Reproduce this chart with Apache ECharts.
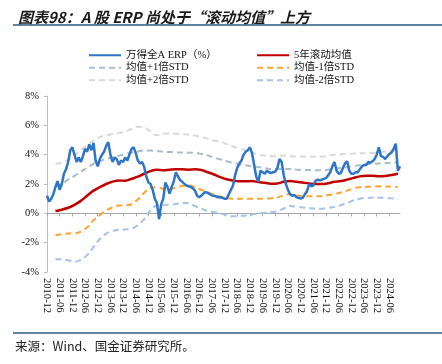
<!DOCTYPE html>
<html>
<head>
<meta charset="utf-8">
<script src="https://cdn.jsdelivr.net/npm/echarts@6/dist/echarts.min.js"></script>
<style>
  html, body { margin: 0; padding: 0; background: #fff; }
  #chart { width: 442px; height: 364px; }
</style>
</head>
<body>
<div id="chart"></div>
<script>
// monthly categories 2010-12 .. 2024-11
const months = [];
for (let y = 2010, m = 12; y < 2024 || (y === 2024 && m <= 11); ) {
  months.push(y + "-" + (m < 10 ? "0" + m : m));
  m++;
  if (m > 12) { m = 1; y++; }
}

// 万得全A ERP, monthly (%)
const erp = [
  1.2, 0.8, 1.0, 1.3, 1.8, 2.2, 1.6, 2.0, 2.7, 3.0, 3.5, 4.3,
  4.5, 4.0, 3.5, 3.8, 3.5, 3.9, 4.4, 4.2, 4.7, 4.3, 4.8, 3.6,
  3.2, 3.7, 4.0, 4.2, 4.6, 4.85, 4.0, 3.5, 3.8, 3.7, 3.3, 3.6,
  3.5, 3.8, 3.6, 4.0, 4.4, 4.5, 4.1, 3.6, 3.4, 3.5, 3.15, 2.5,
  2.1, 2.0, 1.6, 1.0, 0.7, -0.4, 0.6, 1.0, 2.1, 1.8, 1.35, 1.8,
  2.2, 2.8, 2.5, 2.25, 2.15, 2.0, 1.9, 1.85, 1.8, 1.7, 1.55, 1.2,
  1.1, 1.2, 1.35, 1.45, 1.4, 1.3, 1.22, 1.2, 1.15, 1.1, 1.1, 1.05,
  1.0, 1.0, 1.3, 1.6, 1.9, 2.6, 3.1, 3.4, 3.6, 4.0, 4.2, 4.3,
  4.5, 4.1, 3.3, 2.5, 2.15, 2.9, 2.8, 2.7, 2.9, 2.8, 2.75, 2.8,
  2.85, 3.1, 3.7, 3.5, 2.6, 2.0, 1.6, 1.3, 1.2, 1.25, 1.1, 1.05,
  1.0, 1.05, 1.3, 1.5, 2.0, 1.85, 1.9, 2.2, 2.3, 2.25, 2.3, 2.35,
  2.4, 2.6, 2.8, 3.2, 3.5, 2.9, 2.7, 2.75, 3.1, 3.4, 3.55, 2.9,
  2.7, 2.7, 2.8, 2.8, 3.0, 3.2, 3.3, 3.3, 3.5, 3.45, 3.55, 3.7,
  4.0, 4.5, 3.9, 3.85, 3.7, 3.9, 4.05, 4.15, 4.4, 4.75, 2.9, 3.2
];

// rolling stats, read every 3 months starting 2011-04 (index 4)
const bandStart = 4;
const rollMean = [
  0.16, 0.25, 0.38, 0.58, 0.85, 1.2, 1.55, 1.78, 2.0, 2.16, 2.24, 2.22,
  2.35, 2.5, 2.7, 2.88, 2.97, 2.93, 2.97, 3.0, 3.0, 2.98, 3.0, 2.95,
  2.8, 2.65, 2.47, 2.32, 2.24, 2.18, 2.18, 2.2, 2.13, 2.08, 2.02, 2.04,
  2.15, 2.2, 2.16, 2.1, 2.04, 2.0, 2.0, 2.05, 2.15, 2.2, 2.3, 2.42,
  2.52, 2.56, 2.56, 2.52, 2.55, 2.62, 2.7
];
const plus1 = [
  1.8, 2.0, 2.3, 2.55, 2.85, 3.1, 3.38, 3.55, 3.72, 3.82, 3.93, 4.05,
  4.15, 4.22, 4.28, 4.28, 4.25, 4.2, 4.18, 4.17, 4.14, 4.13, 4.12, 4.05,
  3.95, 3.8, 3.68, 3.55, 3.45, 3.35, 3.28, 3.22, 3.15, 3.08, 3.02, 3.0,
  3.03, 3.02, 2.98, 2.96, 2.96, 2.94, 2.93, 2.97, 3.04, 3.1, 3.15, 3.22,
  3.28, 3.33, 3.37, 3.4, 3.42, 3.45, 3.5
];
const plus2 = [
  3.38, 3.45, 3.65, 3.95, 4.3, 4.65, 4.97, 5.2, 5.32, 5.4, 5.47, 5.58,
  5.75, 5.9, 5.85, 5.6, 5.32, 5.45, 5.45, 5.42, 5.4, 5.37, 5.3, 5.2,
  5.1, 4.95, 4.9, 4.72, 4.56, 4.42, 4.3, 4.15, 4.0, 3.95, 3.9, 3.9,
  3.95, 3.9, 3.87, 3.87, 3.87, 3.86, 3.87, 3.92, 4.0, 4.03, 4.06, 4.08,
  4.1, 4.1, 4.12, 4.15, 4.22, 4.27, 4.33
];
const minus1 = [
  -1.5, -1.42, -1.38, -1.37, -1.25, -0.95, -0.48, -0.12, 0.2, 0.4, 0.53, 0.55,
  0.62, 0.95, 1.4, 1.75, 1.78, 1.68, 1.66, 1.75, 1.86, 1.9, 1.78, 1.6,
  1.43, 1.28, 1.15, 1.05, 1.0, 1.0, 1.0, 1.0, 1.0, 1.0, 1.03, 1.08,
  1.22, 1.32, 1.22, 1.18, 1.16, 1.16, 1.18, 1.25, 1.32, 1.42, 1.55, 1.7,
  1.78, 1.8, 1.82, 1.84, 1.83, 1.82, 1.8
];
const minus2 = [
  -3.13, -3.13, -3.2, -3.3, -3.18, -2.85, -2.3, -1.75, -1.38, -1.2, -1.12, -1.1,
  -1.05, -0.8, -0.4, 0.22, 0.54, 0.55, 0.6, 0.63, 0.7, 0.68, 0.5, 0.32,
  0.16, 0.08, 0.0, -0.12, -0.2, -0.18, -0.14, -0.08, 0.0, 0.04, 0.08, 0.15,
  0.33, 0.5, 0.45, 0.4, 0.35, 0.32, 0.32, 0.38, 0.43, 0.55, 0.7, 0.88,
  1.0, 1.05, 1.06, 1.07, 1.06, 1.02, 0.96
];

function bandData(vals) {
  return vals.map((v, i) => [months[bandStart + 3 * i], v]);
}

const serif = "'Liberation Serif', 'Noto Sans CJK SC', serif";
const cjk = "'Noto Sans CJK SC', sans-serif";

function dashedLine(name, vals, color) {
  return {
    name: name,
    type: "line",
    data: bandData(vals),
    symbol: "none",
    smooth: 0.4,
    itemStyle: { color: color },
    lineStyle: { color: color, width: 2, type: [6, 4] },
    z: 2
  };
}

const legendBase = {
  top: 45, orient: "vertical",
  itemWidth: 32, itemHeight: 12, itemGap: 2,
  itemStyle: { opacity: 0 },   // line only, no marker
  textStyle: { fontFamily: serif, fontSize: 10.5, color: "#111" }
};

const chart = echarts.init(document.getElementById("chart"));
chart.setOption({
  animation: false,
  title: {
    text: "图表98：A 股 ERP 尚处于“滚动均值”上方",
    left: 13,
    top: 5,
    textStyle: { fontFamily: cjk, fontSize: 15, fontWeight: "bold", fontStyle: "italic", color: "#1a1a1a" }
  },
  legend: [
    Object.assign({}, legendBase, {
      left: 83,
      data: ["万得全A ERP（%）", "均值+1倍STD", "均值+2倍STD"]
    }),
    Object.assign({}, legendBase, {
      left: 251,
      data: ["5年滚动均值", "均值-1倍STD", "均值-2倍STD"]
    })
  ],
  grid: { left: 47, right: 42, top: 96, bottom: 92 },
  xAxis: [
    {
      type: "category",
      data: months,
      boundaryGap: false,
      position: "bottom",
      axisLine: { show: false, onZero: false },
      axisTick: { show: false },
      axisLabel: { interval: 5, rotate: -90, fontFamily: serif, fontSize: 10.5, color: "#111", margin: 6 }
    },
    {
      type: "category",
      data: months,
      boundaryGap: false,
      position: "top",
      axisLine: { show: true, onZero: true, lineStyle: { color: "#a6a6a6", width: 1 } },
      axisTick: { show: true, inside: true, interval: 5, length: 3, lineStyle: { color: "#a6a6a6" } },
      axisLabel: { show: false }
    }
  ],
  yAxis: {
    type: "value",
    min: -4,
    max: 8,
    interval: 2,
    axisLine: { show: true, lineStyle: { color: "#bfbfbf" } },
    axisTick: { show: true, length: 3, lineStyle: { color: "#bfbfbf" } },
    splitLine: { show: false },
    axisLabel: { formatter: "{value}%", fontFamily: serif, fontSize: 10.5, color: "#111", margin: 8 }
  },
  series: [
    dashedLine("均值+2倍STD", plus2, "#d9d9d9"),
    dashedLine("均值+1倍STD", plus1, "#a8bccb"),
    dashedLine("均值-1倍STD", minus1, "#f9a633"),
    dashedLine("均值-2倍STD", minus2, "#a4c2ea"),
    {
      name: "5年滚动均值",
      type: "line",
      data: bandData(rollMean),
      symbol: "none",
      smooth: 0.4,
      itemStyle: { color: "#c00000" },
      lineStyle: { color: "#c00000", width: 2.5 },
      z: 3
    },
    {
      name: "万得全A ERP（%）",
      type: "line",
      data: erp,
      symbol: "none",
      itemStyle: { color: "#2e75c6" },
      lineStyle: { color: "#2e75c6", width: 2.5 },
      z: 4
    }
  ],
  graphic: [
    { type: "line", shape: { x1: 13, y1: 25, x2: 442, y2: 25 }, style: { stroke: "#2a5a85", lineWidth: 1.5 } },
    { type: "line", shape: { x1: 13, y1: 333, x2: 442, y2: 333 }, style: { stroke: "#2a5a85", lineWidth: 1.5 } },
    {
      type: "text", left: 15, top: 340,
      style: { text: "来源：Wind、国金证券研究所。", font: "12.5px 'Noto Sans CJK SC'", fill: "#222" }
    }
  ]
});
</script>
</body>
</html>
